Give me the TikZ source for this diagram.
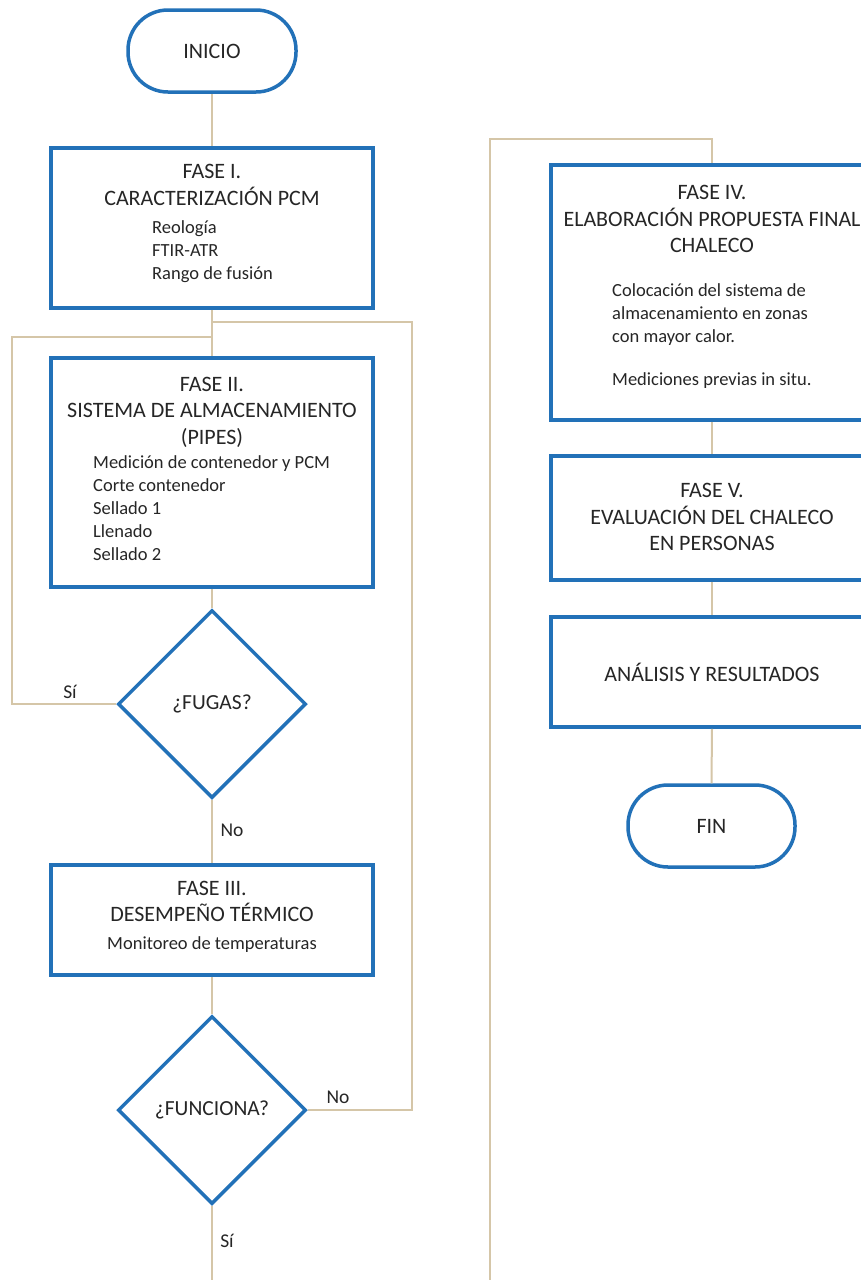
\documentclass[tikz,border=0pt]{standalone}
\usepackage{fontspec}
\setmainfont{Carlito}
\usetikzlibrary{shapes.geometric}
\definecolor{bblue}{HTML}{2271B8}
\definecolor{ctan}{HTML}{D5C6A8}
\definecolor{txt}{HTML}{262626}
\tikzset{
  boxnode/.style={draw=bblue, line width=3.5pt, minimum width=322pt, inner sep=0pt},
  termnode/.style={draw=bblue, line width=3.5pt, rounded corners=40pt, minimum width=168pt, minimum height=82pt, font=\fontsize{22}{26}\selectfont, text=txt},
  decnode/.style={diamond, draw=bblue, line width=3.5pt, minimum width=188pt, minimum height=188pt, inner sep=0pt, font=\fontsize{21.5}{26}\selectfont, text=txt},
  conn/.style={draw=ctan, line width=2pt},
  ttl/.style={font=\fontsize{22}{26.5}\selectfont, align=center, text=txt, inner sep=0pt},
  itm/.style={font=\fontsize{18.5}{23}\selectfont, align=left, text=txt, inner sep=0pt},
  lbl/.style={font=\fontsize{19.5}{23}\selectfont, text=txt, inner sep=0pt}
}
\begin{document}
\begin{tikzpicture}[x=1pt,y=-1pt]
\useasboundingbox (0,0) rectangle (861,1280);
\clip (0,0) rectangle (861,1280);
\fill[white] (0,0) rectangle (861,1280);

% left column
\node[termnode] (ini) at (212,51) {INICIO};
\node[boxnode, minimum height=160pt] (b1) at (212,228) {};
\node[ttl] (b1t) at (212,185) {FASE I.\\CARACTERIZACIÓN PCM};
\node[itm, anchor=west] (b1i) at (152,252) {Reología\\FTIR-ATR\\Rango de fusión};

\node[boxnode, minimum height=229pt] (b2) at (212,472.5) {};
\node[ttl] (b2t) at (212,412) {FASE II.\\SISTEMA DE ALMACENAMIENTO\\(PIPES)};
\node[itm, anchor=west] (b2i) at (93,508) {Medición de contenedor y PCM\\Corte contenedor\\Sellado 1\\Llenado\\Sellado 2};

\node[decnode] (fug) at (212,704) {¿FUGAS?};

\node[boxnode, minimum height=110pt] (b3) at (212,920) {};
\node[ttl] (b3t) at (212,901.5) {FASE III.\\DESEMPEÑO TÉRMICO};
\node[itm, align=center] (b3i) at (212,945) {Monitoreo de temperaturas};

\node[decnode] (fun) at (212,1110) {¿FUNCIONA?};

% right column
\node[boxnode, minimum height=255pt] (b4) at (712,292.5) {};
\node[ttl] (b4t) at (712,219) {FASE IV.\\ELABORACIÓN PROPUESTA FINAL\\CHALECO};
\node[itm, anchor=west] (b4i) at (612,336.5) {Colocación del sistema de\\almacenamiento en zonas\\con mayor calor.\\[20pt]Mediciones previas in situ.};

\node[boxnode, minimum height=124pt] (b5) at (712,518) {};
\node[ttl] (b5t) at (712,517) {FASE V.\\EVALUACIÓN DEL CHALECO\\EN PERSONAS};

\node[boxnode, minimum height=110pt] (b6) at (712,672) {};
\node[ttl] (b6t) at (712,672) {ANÁLISIS Y RESULTADOS};

\node[termnode, minimum width=167pt] (fin) at (711.5,826) {FIN};

% coordinates
\coordinate (jr) at (212,322);
\coordinate (rr1) at (412,322);
\coordinate (rr2) at (412,1110);
\coordinate (jl) at (212,337);
\coordinate (ll1) at (12,337);
\coordinate (ll2) at (12,704);
\coordinate (bot) at (212,1281);
\coordinate (rb) at (490,1281);
\coordinate (rt) at (490,139);
\coordinate (rt2) at (712,139);

% connectors
\draw[conn] (ini.south) -- (b1.north);
\draw[conn] (b1.south) -- (b2.north);
\draw[conn] (jr) -- (rr1) -- (rr2) -- (fun.east);
\draw[conn] (jl) -- (ll1) -- (ll2) -- (fug.west);
\draw[conn] (b2.south) -- (fug.north);
\draw[conn] (fug.south) -- (b3.north);
\draw[conn] (b3.south) -- (fun.north);
\draw[conn] (fun.south) -- (bot);
\draw[conn] (rb) -- (rt) -- (rt2) -- (b4.north);
\draw[conn] (b4.south) -- (b5.north);
\draw[conn] (b5.south) -- (b6.north);
\draw[conn] (b6.south) -- (fin.north);

% labels
\node[lbl] (lsi1) at (70,692) {Sí};
\node[lbl] (lno1) at (232,830) {No};
\node[lbl] (lno2) at (338,1097) {No};
\node[lbl] (lsi2) at (227,1241) {Sí};
\end{tikzpicture}
\end{document}
